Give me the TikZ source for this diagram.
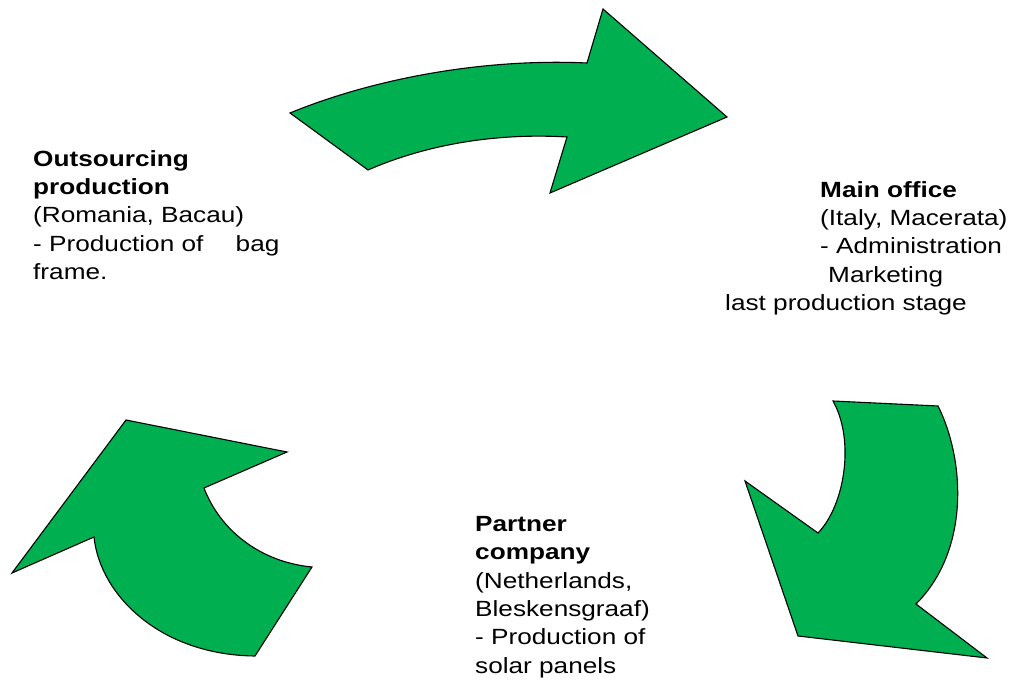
\documentclass[tikz,border=0pt]{standalone}
\usepackage{fontspec}
\setmainfont[FakeStretch=1.19]{Liberation Sans}
\usepackage{tikz}
\definecolor{arrowGreen}{RGB}{0,176,80}
\tikzstyle{tsArrow} = [ 
    fill=arrowGreen, 
    draw=black,
    line width=1.1pt,
    line join=miter
]
\tikzstyle{tsLabel} = [ 
    text=black, 
    font=\fontsize{22}{28.4}\selectfont,
    align=left,
    anchor=north west,
    inner sep=0pt
]
\begin{document}
\begin{tikzpicture}[x=1pt, y=-1pt]

        \useasboundingbox (0,0) rectangle (1015,692);

        % top arrow
        \draw[tsArrow] (290,113) .. controls (370,80) and (480,58) .. (587,63)
            -- (603,9) -- (727,117) -- (550,193) -- (567,137)
            .. controls (500,133) and (430,143) .. (368,170) -- cycle;

        % right arrow
        \draw[tsArrow] (833,401) -- (938,406)
            .. controls (965,460) and (970,550) .. (916,604)
            -- (987,658) -- (798,636) -- (745,481) -- (818,533)
            .. controls (845,505) and (855,440) .. (833,401) -- cycle;

        % left arrow
        \draw[tsArrow] (126,420) -- (287,452) -- (204,488)
            .. controls (220,530) and (260,562) .. (312,567)
            -- (255,656)
            .. controls (160,655) and (100,595) .. (94,537)
            -- (12,573) -- cycle;

        \node[tsLabel] (outsrc) at (33,150) {\textbf{Outsourcing}\\
            \textbf{production}\\
            (Romania, Bacau)\\
            - Production of\hspace{25pt} bag\\
            frame.};

        \node[tsLabel] (mainoff) at (725,181) {\hspace*{95pt}\textbf{Main office}\\
            \hspace*{95pt}(Italy, Macerata)\\
            \hspace*{95pt}- Administration\\
            \hspace*{103pt}Marketing\\
            last production stage};

        \node[tsLabel] (partner) at (475,516) {\textbf{Partner}\\
            \textbf{company}\\
            (Netherlands,\\
            Bleskensgraaf)\\
            - Production of\\
            solar panels};

\end{tikzpicture}
\end{document}
